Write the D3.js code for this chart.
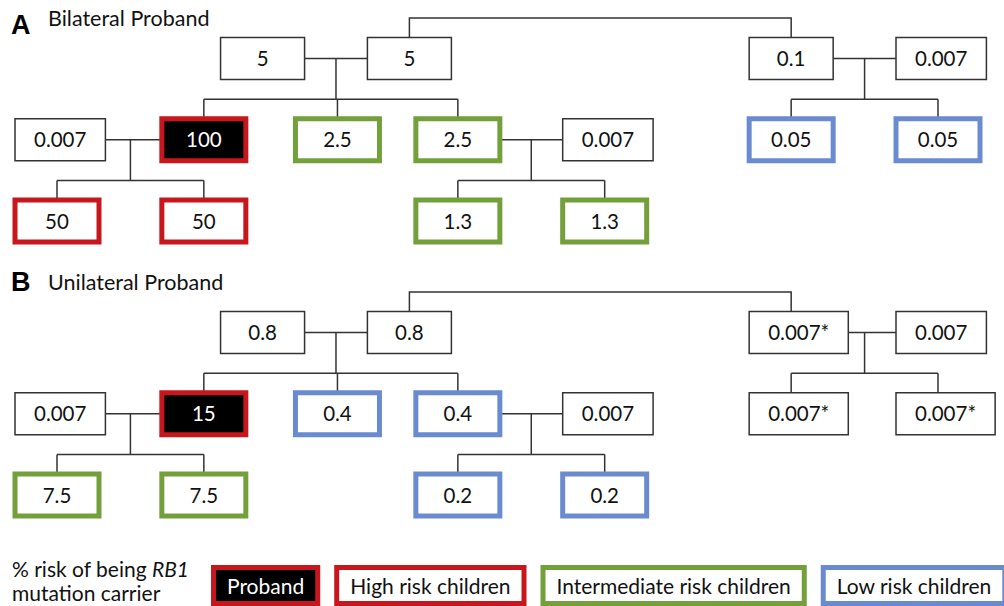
<!DOCTYPE html>
<html>
<head>
<meta charset="utf-8">
<script src="https://cdn.jsdelivr.net/npm/d3@7"></script>
<style>
  body { margin: 0; background: #fff; }
  svg { display: block; }
  text { font-family: Lato, "Noto Sans", sans-serif; fill: #111; }
</style>
</head>
<body>
<svg id="chart" width="1004" height="606"></svg>
<script>
// two pedigrees, same family shape
var panels = ["A", "B"];
var panelTitles = ["Bilateral Proband", "Unilateral Proband"];

// family members (same order in both panels)
var generation = [0, 0, 0, 0, 1, 1, 1, 1, 1, 1, 1, 2, 2, 2, 2];
var slot = [2.8, 4.8, 10, 12, 0, 2, 3.82, 5.46, 7.46, 10, 12, 0, 2, 5.46, 7.46];

// % risk of being RB1 mutation carrier
var bilateralRisk = ["5", "5", "0.1", "0.007", "0.007", "100", "2.5", "2.5", "0.007", "0.05", "0.05", "50", "50", "1.3", "1.3"];
var unilateralRisk = ["0.8", "0.8", "0.007*", "0.007", "0.007", "15", "0.4", "0.4", "0.007", "0.007*", "0.007*", "7.5", "7.5", "0.2", "0.2"];
var bilateralGroup = ["none", "none", "none", "none", "none", "proband", "intermediate", "intermediate", "none", "low", "low", "high", "high", "intermediate", "intermediate"];
var unilateralGroup = ["none", "none", "none", "none", "none", "proband", "low", "low", "none", "none", "none", "intermediate", "intermediate", "low", "low"];

// couples and their children (indexes into the arrays above)
var couples = [[0, 1], [2, 3], [4, 5], [7, 8]];
var coupleChildren = [[5, 6, 7], [9, 10], [11, 12], [13, 14]];
// siblings whose parents are not drawn
var sibships = [[1, 2]];

var legendGroups = ["proband", "high", "intermediate", "low"];
var legendLabels = ["Proband", "High risk children", "Intermediate risk children", "Low risk children"];

var riskByPanel = [bilateralRisk, unilateralRisk];
var groupByPanel = [bilateralGroup, unilateralGroup];

var boxW = 84, boxH = 42;

var svg = d3.select("#chart");

var x = d3.scaleLinear().domain([0, 12]).range([57, 938]);
var y = d3.scaleLinear().domain([0, 2]).range([58.5, 221]);
var panelY = d3.scalePoint().domain(panels).range([0, 274]);

var stroke = d3.scaleOrdinal()
  .domain(["none", "proband", "high", "intermediate", "low"])
  .range(["#333", "#c8161d", "#c8161d", "#73a03a", "#6a8bcf"]);
var strokeW = function(g) { return g === "none" ? 1.5 : 5; };

// title positions (letter, text) per panel
var titleLetterY = [34, 291];
var titleTextY = [26, 290];

panels.forEach(function(p, pi) {
  var g = svg.append("g")
    .attr("transform", "translate(0," + panelY(p) + ")");

  var members = slot.map(function(s, i) {
    return {
      slot: s,
      gen: generation[i],
      risk: riskByPanel[pi][i],
      group: groupByPanel[pi][i]
    };
  });

  var lines = g.append("g")
    .attr("stroke", "#333")
    .attr("stroke-width", 1.5)
    .attr("fill", "none");

  // couple lines with drop to the children line
  couples.forEach(function(c, ci) {
    var a = members[c[0]], b = members[c[1]];
    var mid = (x(a.slot) + x(b.slot)) / 2;
    var kids = coupleChildren[ci].map(function(k) { return members[k]; });
    var kidY = y(a.gen + 0.5);
    lines.append("line")
      .attr("x1", x(a.slot)).attr("x2", x(b.slot))
      .attr("y1", y(a.gen)).attr("y2", y(a.gen));
    lines.append("line")
      .attr("x1", mid).attr("x2", mid)
      .attr("y1", y(a.gen)).attr("y2", kidY);
    lines.append("line")
      .attr("x1", d3.min(kids, function(d) { return x(d.slot); }))
      .attr("x2", d3.max(kids, function(d) { return x(d.slot); }))
      .attr("y1", kidY).attr("y2", kidY);
    kids.forEach(function(d) {
      lines.append("line")
        .attr("x1", x(d.slot)).attr("x2", x(d.slot))
        .attr("y1", kidY).attr("y2", y(d.gen));
    });
  });

  sibships.forEach(function(s) {
    var sibs = s.map(function(k) { return members[k]; });
    var topY = y(sibs[0].gen - 0.5);
    lines.append("path")
      .attr("d", "M" + x(sibs[0].slot) + "," + y(sibs[0].gen) +
        "V" + topY + "H" + x(sibs[1].slot) + "V" + y(sibs[1].gen));
  });

  // boxes
  var nodes = g.selectAll(".member")
    .data(members)
    .enter()
    .append("g")
    .attr("class", "member")
    .attr("transform", function(d) {
      return "translate(" + x(d.slot) + "," + y(d.gen) + ")";
    });

  var rects = nodes.append("rect")
    .attr("y", -boxH / 2)
    .attr("height", boxH)
    .attr("fill", function(d) { return d.group === "proband" ? "#000" : "#fff"; })
    .attr("stroke", function(d) { return stroke(d.group); })
    .attr("stroke-width", function(d) { return strokeW(d.group); });

  var labels = nodes.append("text")
    .attr("y", 7.5)
    .attr("text-anchor", "middle")
    .style("font-size", "20.5px")
    .style("fill", function(d) { return d.group === "proband" ? "#fff" : "#111"; })
    .text(function(d) { return d.risk; });

  // widen boxes for long labels, keeping the left edge
  labels.each(function(d) {
    var tw = this.getComputedTextLength();
    d.w = Math.max(boxW, tw + 38);
    d3.select(this).attr("x", d.w / 2 - boxW / 2);
  });
  rects
    .attr("x", -boxW / 2)
    .attr("width", function(d) { return d.w; });

  // panel titles
  svg.append("text")
    .attr("x", 11)
    .attr("y", titleLetterY[pi])
    .style("font-family", "'Liberation Sans', Arial, sans-serif")
    .style("font-weight", "bold")
    .style("font-size", "27px")
    .style("fill", "#000")
    .text(p);
  svg.append("text")
    .attr("x", 48)
    .attr("y", titleTextY[pi])
    .style("font-size", "21.5px")
    .text(panelTitles[pi]);
});

// legend
var caption = svg.append("text").attr("x", 12).attr("y", 577).style("font-size", "21px");
caption.append("tspan").text("% risk of being ");
caption.append("tspan").style("font-style", "italic").text("RB1");
svg.append("text").attr("x", 12).attr("y", 601).style("font-size", "21px").text("mutation carrier");

var lx = 213.5;
legendGroups.forEach(function(grp, i) {
  var item = svg.append("g");
  var r = item.append("rect")
    .attr("y", 567.5)
    .attr("height", 36)
    .attr("fill", grp === "proband" ? "#000" : "#fff")
    .attr("stroke", stroke(grp))
    .attr("stroke-width", 5);
  var t = item.append("text")
    .attr("y", 593.5)
    .attr("text-anchor", "middle")
    .style("font-size", "21px")
    .style("fill", grp === "proband" ? "#fff" : "#111")
    .text(legendLabels[i]);
  var w = t.node().getComputedTextLength() + 27;
  r.attr("x", lx).attr("width", w);
  t.attr("x", lx + w / 2);
  lx += w + 19;
});
</script>
</body>
</html>
